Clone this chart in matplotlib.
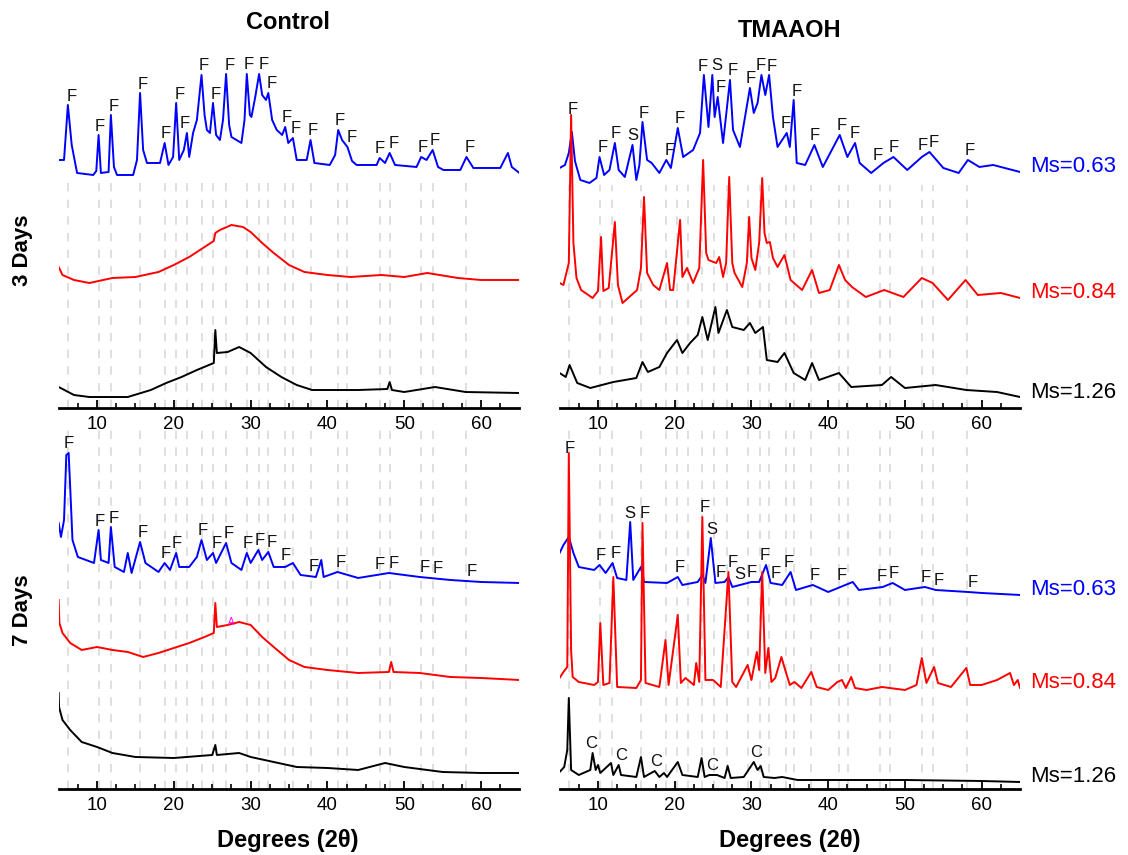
import numpy as np
import matplotlib.pyplot as plt
from matplotlib.transforms import blended_transform_factory

plt.rcParams['font.family'] = ['Liberation Sans', 'DejaVu Sans']

# XRD patterns: (2theta, intensity above the trace's own offset)
ctrl3_blue = [(5.0, 15), (5.7, 15), (6.2, 70), (6.7, 30), (7.4, 2), (9.5, 0), (9.9, 4), (10.2, 40), (10.5, 2),
              (11.5, 3), (11.8, 60), (12.2, 8), (12.6, 0), (14.7, 0), (15.2, 15), (15.6, 82), (16.0, 25),
              (16.5, 12), (18.2, 12), (18.8, 32), (19.3, 10), (19.9, 18), (20.3, 72), (20.7, 15), (21.3, 25),
              (21.7, 42), (22.0, 18), (22.5, 42), (23.0, 55), (23.6, 100), (24.0, 60), (24.3, 45), (24.7, 42),
              (25.1, 72), (25.5, 40), (26.0, 35), (26.4, 55), (26.8, 101), (27.2, 50), (27.5, 38), (28.8, 32),
              (29.2, 55), (29.5, 101), (29.9, 60), (30.1, 58), (30.6, 78), (31.1, 101), (31.5, 80), (32.0, 75),
              (32.3, 82), (32.8, 55), (33.4, 45), (34.1, 40), (34.5, 48), (34.9, 32), (35.5, 37), (36.0, 15),
              (37.3, 15), (37.8, 35), (38.3, 12), (40.3, 10), (41.0, 20), (41.4, 45), (41.9, 35), (42.6, 28),
              (43.2, 14), (43.8, 10), (46.4, 10), (46.8, 17), (47.5, 12), (48.1, 22), (48.8, 10), (51.6, 8),
              (52.2, 18), (52.9, 15), (53.7, 25), (54.4, 8), (55.1, 5), (57.3, 5), (58.1, 18), (59.0, 7),
              (62.5, 7), (63.5, 22), (64.0, 8), (65.0, 2)]
ctrl3_red = [(5.0, 16), (5.5, 8), (7.0, 3), (9.0, 0), (12.0, 5), (15.0, 6), (18.0, 11), (20.0, 18), (22.0, 26),
             (24.0, 36), (25.2, 42), (25.4, 50), (26.0, 53), (27.5, 58), (29.0, 56), (30.0, 51), (31.5, 40),
             (33.0, 30), (35.0, 18), (37.0, 11), (40.0, 8), (43.0, 6), (47.0, 8), (50.0, 6), (53.0, 10),
             (57.0, 5), (60.0, 3), (65.0, 3)]
ctrl3_black = [(5.0, 10), (6.0, 6), (7.0, 2), (9.0, 0), (14.0, 0), (17.0, 7), (19.0, 14), (21.0, 20), (23.0, 27),
               (25.2, 34), (25.4, 67), (25.6, 44), (27.0, 45), (28.5, 50), (30.0, 44), (32.0, 30), (34.0, 20),
               (36.0, 12), (38.0, 7), (44.0, 7), (47.8, 8), (48.1, 15), (48.4, 7), (50.0, 5), (54.0, 10),
               (58.0, 5), (65.0, 4)]

tma3_blue = [(5.0, 15), (5.7, 18), (6.2, 30), (6.6, 51), (7.0, 22), (7.7, 3), (8.9, 0), (9.8, 5), (10.2, 26),
             (10.8, 8), (11.5, 13), (12.2, 40), (12.7, 13), (13.5, 6), (14.5, 38), (15.0, 3), (15.4, 18),
             (15.8, 61), (16.4, 23), (17.0, 20), (18.0, 10), (18.9, 23), (19.5, 15), (20.4, 55), (21.1, 26),
             (22.4, 33), (23.3, 50), (23.8, 108), (24.4, 56), (24.9, 108), (25.2, 66), (25.6, 86), (26.3, 40),
             (27.2, 103), (27.6, 53), (28.5, 36), (29.8, 95), (30.3, 70), (30.8, 80), (31.3, 108), (31.8, 88),
             (32.3, 108), (32.8, 66), (33.4, 36), (34.6, 50), (35.0, 36), (35.5, 83), (35.9, 20), (37.0, 18),
             (38.2, 38), (39.3, 16), (41.5, 48), (42.5, 26), (43.5, 40), (44.1, 20), (45.6, 10), (47.2, 20),
             (48.5, 26), (50.3, 13), (52.2, 26), (53.2, 31), (55.0, 15), (57.0, 10), (58.2, 23), (59.7, 16),
             (61.5, 18), (63.0, 15), (65.0, 11)]
tma3_red = [(5.0, 20), (5.5, 18), (6.2, 40), (6.5, 188), (6.8, 60), (7.2, 25), (7.8, 13), (9.3, 5), (10.0, 12),
            (10.4, 66), (10.7, 12), (11.4, 15), (12.2, 81), (12.6, 18), (13.2, 0), (15.1, 13), (15.6, 35),
            (16.0, 106), (16.4, 30), (17.2, 18), (18.0, 13), (19.0, 40), (19.4, 13), (19.8, 13), (20.7, 83),
            (21.0, 26), (21.6, 35), (22.4, 20), (23.2, 35), (23.7, 143), (24.1, 50), (24.4, 43), (25.4, 40),
            (25.8, 46), (26.3, 26), (26.7, 40), (27.1, 126), (27.5, 40), (27.8, 30), (28.8, 16), (29.4, 40),
            (29.7, 86), (30.0, 45), (30.5, 33), (31.0, 60), (31.4, 125), (31.7, 70), (32.0, 60), (32.4, 61),
            (32.8, 45), (33.4, 36), (34.3, 48), (35.1, 23), (36.6, 13), (37.9, 33), (38.8, 10), (40.2, 13),
            (41.4, 38), (42.2, 23), (43.1, 16), (44.9, 6), (47.3, 13), (49.8, 6), (52.2, 25), (53.6, 20),
            (55.6, 3), (57.9, 23), (59.5, 8), (62.5, 10), (65.0, 5)]
tma3_black = [(5.0, 24), (5.8, 20), (6.3, 32), (7.3, 14), (9.0, 9), (12.0, 15), (15.0, 19), (15.8, 35),
              (16.5, 25), (18.0, 30), (19.0, 44), (20.3, 57), (21.0, 44), (22.0, 54), (23.0, 62), (23.6, 80),
              (24.3, 57), (25.3, 90), (25.7, 64), (26.8, 87), (27.5, 70), (29.0, 67), (29.8, 74), (30.5, 64),
              (31.5, 70), (32.0, 37), (33.4, 35), (34.3, 44), (35.5, 24), (37.0, 17), (37.9, 34), (38.8, 17),
              (41.4, 24), (43.0, 10), (47.0, 12), (48.2, 20), (50.0, 9), (54.0, 12), (58.0, 7), (62.0, 5),
              (65.0, 0)]

ctrl7_blue = [(5.0, 60), (5.3, 46), (5.7, 63), (6.0, 128), (6.3, 130), (6.5, 96), (6.8, 43), (7.5, 26),
              (9.6, 20), (10.2, 53), (10.5, 23), (11.5, 20), (11.8, 56), (12.3, 16), (13.5, 11), (14.0, 30),
              (14.5, 10), (15.6, 41), (16.3, 20), (18.0, 11), (18.8, 20), (19.5, 13), (20.3, 30), (20.7, 16),
              (22.0, 16), (23.0, 26), (23.6, 43), (24.3, 23), (25.1, 30), (25.5, 20), (26.8, 40), (27.5, 20),
              (28.8, 13), (29.5, 30), (30.0, 20), (31.0, 33), (31.5, 23), (32.3, 31), (33.0, 16), (34.5, 16),
              (35.5, 20), (36.5, 8), (38.5, 6), (39.2, 23), (39.5, 6), (41.3, 11), (44.0, 5), (48.0, 10),
              (52.0, 6), (56.0, 3), (60.0, 1), (65.0, 0)]
ctrl7_red = [(5.0, 80), (5.1, 57), (5.5, 47), (6.5, 37), (8.0, 30), (10.0, 33), (12.0, 30), (14.0, 28),
             (16.0, 23), (18.0, 27), (20.0, 32), (22.0, 37), (24.0, 43), (25.2, 47), (25.4, 77), (25.6, 53),
             (27.0, 55), (28.5, 58), (30.0, 55), (31.5, 43), (33.0, 33), (35.0, 20), (37.0, 13), (40.0, 10),
             (44.0, 7), (48.0, 8), (48.3, 18), (48.6, 8), (52.0, 7), (56.0, 3), (60.0, 2), (65.0, 0)]
ctrl7_black = [(5.0, 80), (5.05, 66), (5.5, 53), (6.5, 43), (8.0, 31), (10.0, 26), (12.0, 20), (15.0, 16),
               (20.0, 15), (25.0, 18), (25.4, 28), (25.6, 18), (28.5, 20), (30.0, 16), (33.0, 11), (36.0, 6),
               (40.0, 5), (44.0, 3), (47.5, 10), (50.0, 6), (55.0, 1), (60.0, 0), (65.0, 0)]

tma7_blue = [(5.0, 42), (5.5, 50), (6.2, 58), (6.8, 42), (7.5, 28), (9.5, 25), (10.2, 30), (11.0, 22),
             (11.9, 32), (12.5, 17), (13.7, 15), (14.2, 73), (14.6, 15), (15.6, 28), (16.0, 13), (19.0, 12),
             (20.4, 18), (21.0, 10), (23.0, 13), (23.6, 20), (24.0, 12), (24.7, 57), (25.3, 12), (26.5, 13),
             (27.0, 18), (27.5, 8), (28.5, 10), (30.0, 13), (31.0, 13), (31.9, 30), (32.5, 12), (34.0, 10),
             (35.1, 23), (35.8, 5), (38.0, 10), (40.0, 3), (43.2, 13), (44.0, 5), (47.1, 8), (48.4, 12),
             (50.0, 5), (52.6, 8), (54.0, 5), (58.2, 3), (60.0, 2), (65.0, 0)]
tma7_red = [(5.0, 12), (5.5, 18), (6.0, 23), (6.2, 237), (6.5, 40), (6.7, 13), (7.5, 8), (9.5, 5), (10.0, 8),
            (10.3, 67), (10.7, 5), (11.5, 7), (12.0, 113), (12.5, 3), (15.0, 2), (15.6, 10), (15.8, 167),
            (16.2, 7), (18.0, 3), (18.8, 50), (19.2, 5), (20.4, 75), (20.8, 7), (21.4, 12), (22.5, 5),
            (22.8, 27), (23.2, 8), (23.6, 173), (24.0, 10), (25.0, 10), (26.0, 3), (27.0, 118), (27.5, 8),
            (28.0, 3), (29.5, 25), (30.0, 10), (30.7, 38), (31.0, 20), (31.4, 118), (31.8, 17), (32.2, 42),
            (32.6, 8), (33.1, 12), (33.9, 33), (34.4, 20), (35.0, 5), (35.6, 8), (36.5, 2), (37.8, 18),
            (38.5, 3), (40.0, 0), (41.2, 8), (41.8, 10), (42.3, 2), (43.0, 13), (43.5, 2), (45.0, 0), (47.0, 3),
            (48.0, 2), (50.0, 0), (51.5, 5), (52.2, 32), (52.8, 7), (53.8, 23), (54.3, 7), (56.0, 3),
            (58.0, 22), (58.5, 5), (60.0, 5), (62.0, 10), (63.7, 17), (64.2, 5), (64.7, 10), (65.0, 2)]
tma7_black = [(5.0, 10), (5.6, 15), (6.0, 32), (6.2, 84), (6.5, 12), (7.5, 7), (9.0, 12), (9.3, 29), (9.7, 12),
              (10.0, 17), (10.3, 9), (11.7, 19), (12.0, 7), (12.7, 17), (13.0, 7), (15.0, 5), (15.6, 25),
              (16.0, 5), (17.4, 11), (18.0, 5), (18.6, 9), (19.0, 5), (20.4, 20), (21.0, 7), (23.0, 5),
              (23.5, 24), (23.9, 5), (24.5, 7), (25.5, 7), (26.5, 4), (26.9, 16), (27.3, 4), (29.0, 5),
              (30.3, 20), (30.8, 12), (31.2, 16), (31.6, 5), (33.0, 4), (34.0, 5), (36.0, 2), (40.0, 2),
              (50.0, 2), (60.0, 1), (65.0, 0)]

# faujasite reference positions (dashed lines)
f_lines = [6.2, 10.2, 11.8, 15.6, 18.8, 20.3, 21.7, 23.6, 25.1, 26.8, 29.5, 31.1, 32.3, 34.5, 35.5, 37.8,
           41.4, 42.6, 46.8, 48.1, 52.2, 53.7, 58.1]

# peak labels (2theta, phase)
ctrl3_labels = [(6.7, 'F'), (10.4, 'F'), (12.2, 'F'), (16.0, 'F'), (19.0, 'F'), (20.7, 'F'), (21.4, 'F'),
                (23.9, 'F'), (25.5, 'F'), (27.3, 'F'), (29.8, 'F'), (31.7, 'F'), (32.8, 'F'), (34.7, 'F'),
                (35.9, 'F'), (38.1, 'F'), (41.6, 'F'), (43.2, 'F'), (46.8, 'F'), (48.6, 'F'), (52.4, 'F'),
                (53.9, 'F'), (58.5, 'F')]
tma3_labels = [(6.7, 'F'), (10.6, 'F'), (12.3, 'F'), (14.5, 'S'), (16.0, 'F'), (19.3, 'F'), (20.6, 'F'),
               (23.6, 'F'), (25.5, 'S'), (26.0, 'F'), (27.5, 'F'), (29.9, 'F'), (31.2, 'F'), (32.7, 'F'),
               (34.5, 'F'), (35.9, 'F'), (38.3, 'F'), (41.7, 'F'), (43.4, 'F'), (46.5, 'F'), (48.5, 'F'),
               (52.3, 'F'), (53.8, 'F'), (58.4, 'F')]
ctrl7_labels = [(6.3, 'F'), (10.3, 'F'), (12.2, 'F'), (15.9, 'F'), (19.0, 'F'), (20.4, 'F'), (23.7, 'F'),
                (25.6, 'F'), (27.2, 'F'), (29.6, 'F'), (31.2, 'F'), (32.7, 'F'), (34.6, 'F'), (38.2, 'F'),
                (41.7, 'F'), (46.8, 'F'), (48.6, 'F'), (52.6, 'F'), (54.3, 'F'), (58.8, 'F')]
tma7_labels = [(6.3, 'F'), (10.3, 'F'), (12.3, 'F'), (14.1, 'S'), (16.1, 'F'), (20.6, 'F'), (23.9, 'F'),
               (24.8, 'S'), (26.0, 'F'), (27.6, 'F'), (28.5, 'S'), (30.0, 'F'), (31.7, 'F'), (33.2, 'F'),
               (34.9, 'F'), (38.3, 'F'), (41.8, 'F'), (47.0, 'F'), (48.5, 'F'), (52.7, 'F'), (54.4, 'F'),
               (58.8, 'F')]
tma7_c_labels = [(9.1, 'C'), (13.0, 'C'), (17.6, 'C'), (24.9, 'C'), (30.6, 'C')]

ms_labels = ['Ms=0.63', 'Ms=0.84', 'Ms=1.26']
colors = ['#0000ff', '#ff0000', 'black']

fig = plt.figure(figsize=(11.28, 8.55), dpi=100)
axes = {
    'tl': fig.add_axes([0.052, 0.5228, 0.4085, 0.4246]),
    'tr': fig.add_axes([0.4961, 0.5228, 0.4082, 0.4246]),
    'bl': fig.add_axes([0.052, 0.0772, 0.4085, 0.4199]),
    'br': fig.add_axes([0.4961, 0.0772, 0.4082, 0.4199]),
}
ytops = {'tl': 363, 'tr': 363, 'bl': 359, 'br': 359}
offsets = {'tl': [233, 125, 11], 'tr': [225, 105, 11], 'bl': [206, 109, 16], 'br': [194, 99, 7]}
line_tops = {'tl': 228, 'tr': 223, 'bl': 359, 'br': 359}
traces = {'tl': [ctrl3_blue, ctrl3_red, ctrl3_black], 'tr': [tma3_blue, tma3_red, tma3_black],
          'bl': [ctrl7_blue, ctrl7_red, ctrl7_black], 'br': [tma7_blue, tma7_red, tma7_black]}
labels = {'tl': ctrl3_labels, 'tr': tma3_labels, 'bl': ctrl7_labels, 'br': tma7_labels}


def place_labels(ax, curves, lab):
    for x0, letter in lab:
        grid = np.linspace(x0 - 0.6, x0 + 0.3, 40)
        top = max(np.interp(grid, cx, cy).max() for cx, cy in curves)
        ax.text(x0, top + 2, letter, ha='center', va='bottom', fontsize=12, color='#111111')


for key, ax in axes.items():
    ax.vlines(f_lines, 0, line_tops[key], colors='#d9d9d9', linestyles=(0, (5, 5)), lw=1.2, zorder=0)
    curves = []
    for pts, off, col in zip(traces[key], offsets[key], colors):
        x, y = np.array(pts).T
        ax.plot(x, y + off, color=col, lw=1.4)
        curves.append((x, y + off))
    place_labels(ax, curves, labels[key])
    if key == 'br':
        place_labels(ax, curves[2:], tma7_c_labels)
    if key == 'bl':
        cx, cy = curves[1]
        ax.text(27.5, np.interp(27.5, cx, cy) + 2, 'A', color='magenta', fontsize=7, ha='center', va='center')
    if key in ('tr', 'br'):
        tr = blended_transform_factory(ax.transAxes, ax.transData)
        for (cx, cy), txt, col in zip(curves, ms_labels, colors):
            ax.text(1.022, cy[-1] + 5, txt, transform=tr, color=col, fontsize=16, ha='left', va='center')

    ax.set_xlim(5, 65)
    ax.set_ylim(0, ytops[key])
    ax.set_yticks([])
    for s in ['left', 'right', 'top']:
        ax.spines[s].set_visible(False)
    ax.spines['bottom'].set_linewidth(2)
    ax.set_xticks([10, 20, 30, 40, 50, 60])
    ax.set_xticks(np.arange(7.5, 65, 2.5), minor=True)
    ax.tick_params(axis='x', which='major', direction='in', length=6, width=1.3, labelsize=13.5, pad=6)
    ax.tick_params(axis='x', which='minor', direction='in', length=3.5, width=1.2)
    ax.patch.set_alpha(0)

fig.text(0.2555, 0.974, 'Control', ha='center', va='center', fontsize=17, fontweight='bold')
fig.text(0.700, 0.964, 'TMAAOH', ha='center', va='center', fontsize=17, fontweight='bold')
fig.text(0.2555, 0.0175, 'Degrees (2θ)', ha='center', va='center', fontsize=17, fontweight='bold')
fig.text(0.700, 0.0175, 'Degrees (2θ)', ha='center', va='center', fontsize=17, fontweight='bold')
fig.text(0.020, 1 - 250 / 855, '3 Days', rotation=90, ha='center', va='center', fontsize=16, fontweight='bold')
fig.text(0.020, 1 - 610 / 855, '7 Days', rotation=90, ha='center', va='center', fontsize=16, fontweight='bold')

fig.savefig('out.png', dpi=100)
